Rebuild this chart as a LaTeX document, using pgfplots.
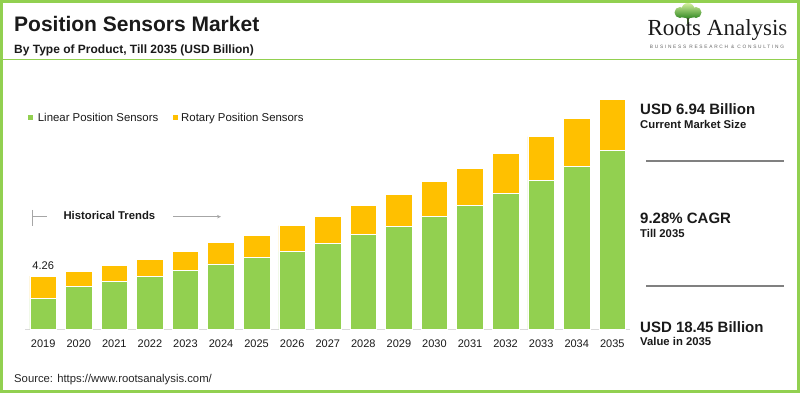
\documentclass[border=0pt]{standalone}
\usepackage{pgfplots}
\pgfplotsset{compat=1.18}
\usepackage{pgfplotstable}
\usepackage{fontspec}
\setmainfont{Liberation Sans}
\newfontfamily\seriffont{Liberation Serif}
\newfontfamily\tagfont[LetterSpace=36]{Liberation Sans}
\usetikzlibrary{arrows.meta}
\definecolor{lingreen}{HTML}{92D050}
\definecolor{rotyellow}{HTML}{FFC000}
\definecolor{bordergreen}{HTML}{92D050}
\definecolor{sepgray}{HTML}{808080}
\definecolor{axgray}{HTML}{D9D9D9}
\definecolor{txt}{HTML}{1A1A1A}
\pgfplotstableread{
x lin rot
0 2.46 1.80
1 3.44 1.21
2 3.87 1.22
3 4.25 1.36
4 4.73 1.49
5 5.24 1.70
6 5.74 1.81
7 6.25 2.05
8 6.91 2.11
9 7.58 2.32
10 8.25 2.56
11 9.05 2.77
12 9.90 3.02
13 10.89 3.23
14 11.96 3.47
15 13.06 3.84
16 14.34 4.11
}\datatable
\begin{document}
\begin{tikzpicture}[x=1pt,y=1pt]
\useasboundingbox (0,0) rectangle (800,393);
\fill[white] (0,0) rectangle (800,393);
% header
\node[anchor=base west,inner sep=0,font=\fontsize{21}{24}\selectfont\bfseries,text=txt] at (14,361.3) {Position Sensors Market};
\node[anchor=base west,inner sep=0,font=\fontsize{12}{14}\selectfont\bfseries,text=txt] at (14,339.7) {By Type of Product, Till 2035 (USD Billion)};
\draw[bordergreen,line width=1.2pt] (0,333.7) -- (800,333.7);
% logo
\draw[line width=1.6pt,color={rgb,255:red,60;green,85;blue,45}] (688,377) -- (688,368.5);
\draw[line width=0.8pt,color={rgb,255:red,60;green,85;blue,45}] (688,374) -- (684,377) (688,374) -- (692,377);
\shade[top color={rgb,255:red,210;green,240;blue,155},bottom color={rgb,255:red,55;green,140;blue,40}]
  (680,380.5) circle [radius=5.5] (688,383.5) circle [radius=6.5] (696,380.5) circle [radius=5.5] (688,379) ellipse [x radius=12, y radius=4];
\node[anchor=base west,inner sep=0,font=\seriffont\fontsize{23}{26}\selectfont,text=txt] at (647.3,357) {Roots Analysis};
\node[anchor=center,inner sep=0,font=\tagfont\fontsize{4.8}{5}\selectfont,text=black!60] at (717,346.3) {BUSINESS RESEARCH \& CONSULTING};
% legend
\fill[lingreen] (28,272.5) rectangle (33,277.5);
\node[anchor=base west,inner sep=0,font=\fontsize{11.4}{13}\selectfont,text=txt] at (37.7,271.3) {Linear Position Sensors};
\fill[rotyellow] (172.5,272.5) rectangle (177.5,277.5);
\node[anchor=base west,inner sep=0,font=\fontsize{11.4}{13}\selectfont,text=txt] at (181,271.3) {Rotary Position Sensors};
% historical trends
\draw[black!35,line width=0.8pt] (32,183) -- (32,167);
\draw[black!35,line width=0.8pt] (32,176.3) -- (47,176.3);
\node[anchor=base west,inner sep=0,font=\fontsize{11.3}{13}\selectfont\bfseries,text=txt] at (63.3,173) {Historical Trends};
\draw[black!35,line width=0.8pt,-{Stealth[length=4pt,width=3.5pt]}] (173,176.3) -- (221,176.3);
% chart
\begin{axis}[
  at={(25.4pt,63.7pt)}, anchor=south west,
  scale only axis, width=604.7pt, height=249.6pt,
  xmin=-0.5, xmax=16.5, ymin=0, ymax=20,
  axis x line=bottom, axis y line=none,
  x axis line style={axgray,line width=1.2pt,-},
  ybar stacked, bar width=26.6pt,
  xtick={0,...,16},
  xticklabels={2019,2020,2021,2022,2023,2024,2025,2026,2027,2028,2029,2030,2031,2032,2033,2034,2035},
  major tick length=0pt,
  xticklabel style={font=\fontsize{11}{13}\selectfont, text=txt, anchor=base, yshift=-18pt},
  clip=false,
]
\addplot[fill=lingreen,draw=white,line width=0.6pt] table[x=x,y=lin] {\datatable};
\addplot[fill=rotyellow,draw=white,line width=0.6pt] table[x=x,y=rot] {\datatable};
\node[anchor=base,inner sep=0,font=\fontsize{11.1}{13}\selectfont,text=txt] at (axis cs:0,4.26) [yshift=6.5pt] {4.26};
\end{axis}
% right panel
\node[anchor=base west,inner sep=0,font=\fontsize{15}{17}\selectfont\bfseries,text=txt] at (640,278) {USD 6.94 Billion};
\node[anchor=base west,inner sep=0,font=\fontsize{11.3}{13}\selectfont\bfseries,text=txt] at (640,264.7) {Current Market Size};
\draw[sepgray,line width=2pt] (646,232.3) -- (784,232.3);
\node[anchor=base west,inner sep=0,font=\fontsize{15}{17}\selectfont\bfseries,text=txt] at (640,169.7) {9.28\% CAGR};
\node[anchor=base west,inner sep=0,font=\fontsize{11.3}{13}\selectfont\bfseries,text=txt] at (640,155.7) {Till 2035};
\draw[sepgray,line width=2pt] (646,107) -- (784,107);
\node[anchor=base west,inner sep=0,font=\fontsize{15}{17}\selectfont\bfseries,text=txt] at (640,60.7) {USD 18.45 Billion};
\node[anchor=base west,inner sep=0,font=\fontsize{11.3}{13}\selectfont\bfseries,text=txt] at (640,47) {Value in 2035};
% source
\node[anchor=base west,inner sep=0,font=\fontsize{11.3}{13}\selectfont,text=black!85] at (14,10.7) {Source: https://www.rootsanalysis.com/};
% border
\draw[bordergreen,line width=3pt] (1.5,1.5) rectangle (798.5,391.5);
\end{tikzpicture}
\end{document}
